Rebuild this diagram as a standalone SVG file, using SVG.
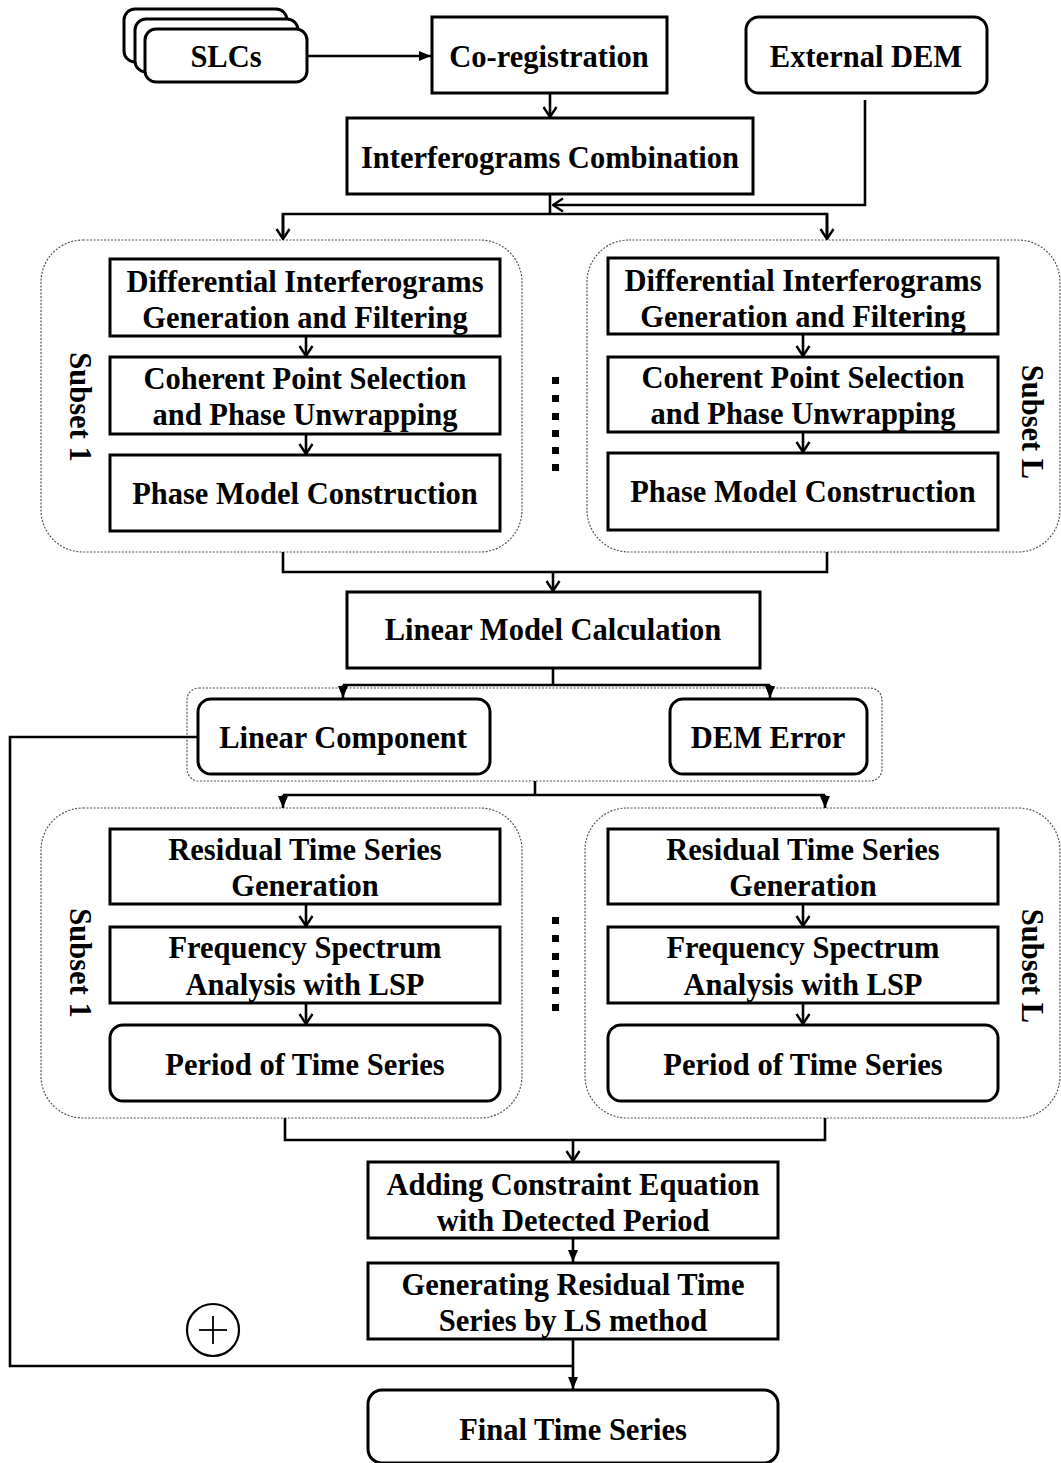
<svg xmlns="http://www.w3.org/2000/svg" width="1061" height="1463" viewBox="0 0 1061 1463">
<style>
.bg{fill:#fff}
.box{fill:#fff;stroke:#000;stroke-width:3}
.grp{fill:none;stroke:#555;stroke-width:1.2;stroke-dasharray:2 1.5}
.ln{fill:none;stroke:#000;stroke-width:2.6}
.t{font-family:"Liberation Serif","Times New Roman",serif;font-weight:bold;font-size:30.5px;text-anchor:middle;fill:#000}
.dot{fill:#000}
</style>
<defs>
<marker id="open" markerUnits="userSpaceOnUse" viewBox="0 0 12 16" refX="11" refY="8" markerWidth="12" markerHeight="16" orient="auto">
<path d="M1,1.5 L11,8 L1,14.5" fill="none" stroke="#000" stroke-width="2.4"/>
</marker>
<marker id="fill" markerUnits="userSpaceOnUse" viewBox="0 0 12 10" refX="12" refY="5" markerWidth="12" markerHeight="10" orient="auto">
<path d="M0,0 L12,5 L0,10 z" fill="#000"/>
</marker>
</defs>
<rect class="bg" x="0" y="0" width="1061" height="1463"/>

<g id="groups">
<rect id="grp-top-1" class="grp" x="41" y="240" width="481" height="312" rx="42"/>
<rect id="grp-top-L" class="grp" x="587" y="240" width="473" height="312" rx="42"/>
<rect id="grp-mid" class="grp" x="187" y="688" width="695" height="93" rx="12"/>
<rect id="grp-bot-1" class="grp" x="41" y="808" width="481" height="310" rx="42"/>
<rect id="grp-bot-L" class="grp" x="585" y="808" width="475" height="310" rx="42"/>
</g>

<g id="connectors">
<line class="ln" x1="307" y1="56" x2="431" y2="56" marker-end="url(#fill)"/>
<line class="ln" x1="550" y1="93" x2="550" y2="117" marker-end="url(#open)"/>
<polyline class="ln" points="865,100 865,205 553,205" marker-end="url(#open)"/>
<line class="ln" x1="550" y1="194" x2="550" y2="214"/>
<polyline class="ln" points="283,238 283,214 827,214 827,238"/>
<line class="ln" x1="283" y1="214" x2="283" y2="239" marker-end="url(#open)"/>
<line class="ln" x1="827" y1="214" x2="827" y2="239" marker-end="url(#open)"/>
<line class="ln" x1="306" y1="336" x2="306" y2="356" marker-end="url(#open)"/>
<line class="ln" x1="306" y1="434" x2="306" y2="454" marker-end="url(#open)"/>
<line class="ln" x1="803" y1="334" x2="803" y2="356" marker-end="url(#open)"/>
<line class="ln" x1="803" y1="432" x2="803" y2="452" marker-end="url(#open)"/>
<polyline class="ln" points="283,552 283,572 827,572 827,552"/>
<line class="ln" x1="553" y1="572" x2="553" y2="591" marker-end="url(#open)"/>
<line class="ln" x1="553" y1="668" x2="553" y2="685"/>
<line class="ln" x1="343" y1="685" x2="770" y2="685"/>
<line class="ln" x1="343" y1="685" x2="343" y2="698" marker-end="url(#fill)"/>
<line class="ln" x1="770" y1="685" x2="770" y2="698" marker-end="url(#fill)"/>
<polyline class="ln" points="198,737 10,737 10,1366 573,1366"/>
<line class="ln" x1="535" y1="781" x2="535" y2="795"/>
<line class="ln" x1="283" y1="795" x2="825" y2="795"/>
<line class="ln" x1="283" y1="795" x2="283" y2="808" marker-end="url(#fill)"/>
<line class="ln" x1="825" y1="795" x2="825" y2="808" marker-end="url(#fill)"/>
<line class="ln" x1="306" y1="904" x2="306" y2="926" marker-end="url(#open)"/>
<line class="ln" x1="306" y1="1003" x2="306" y2="1024" marker-end="url(#open)"/>
<line class="ln" x1="803" y1="904" x2="803" y2="926" marker-end="url(#open)"/>
<line class="ln" x1="803" y1="1003" x2="803" y2="1024" marker-end="url(#open)"/>
<polyline class="ln" points="285,1118 285,1140 825,1140 825,1118"/>
<line class="ln" x1="573" y1="1140" x2="573" y2="1161" marker-end="url(#open)"/>
<line class="ln" x1="573" y1="1238" x2="573" y2="1262" marker-end="url(#fill)"/>
<line class="ln" x1="573" y1="1339" x2="573" y2="1389" marker-end="url(#fill)"/>
</g>

<g id="slcs">
<rect class="box" x="124" y="9" width="163" height="53" rx="11"/>
<rect class="box" x="135" y="19" width="163" height="53" rx="11"/>
<rect class="box" x="145" y="29" width="162" height="53" rx="11"/>
<text class="t" x="226" y="67">SLCs</text>
</g>
<g id="coreg">
<rect class="box" x="432" y="17" width="235" height="76"/>
<text class="t" x="549" y="67">Co-registration</text>
</g>
<g id="extdem">
<rect class="box" x="746" y="17" width="241" height="76" rx="13"/>
<text class="t" x="866" y="67">External DEM</text>
</g>
<g id="interf">
<rect class="box" x="347" y="118" width="406" height="76"/>
<text class="t" x="550" y="168">Interferograms Combination</text>
</g>

<g id="diff1">
<rect class="box" x="110" y="259" width="390" height="77"/>
<text class="t" x="305" y="292">Differential Interferograms</text>
<text class="t" x="305" y="328">Generation and Filtering</text>
</g>
<g id="coh1">
<rect class="box" x="110" y="357" width="390" height="77"/>
<text class="t" x="305" y="389">Coherent Point Selection</text>
<text class="t" x="305" y="425">and Phase Unwrapping</text>
</g>
<g id="pmc1">
<rect class="box" x="110" y="455" width="390" height="76"/>
<text class="t" x="305" y="504">Phase Model Construction</text>
</g>
<g id="diffL">
<rect class="box" x="608" y="258" width="390" height="76"/>
<text class="t" x="803" y="291">Differential Interferograms</text>
<text class="t" x="803" y="327">Generation and Filtering</text>
</g>
<g id="cohL">
<rect class="box" x="608" y="357" width="390" height="75"/>
<text class="t" x="803" y="388">Coherent Point Selection</text>
<text class="t" x="803" y="424">and Phase Unwrapping</text>
</g>
<g id="pmcL">
<rect class="box" x="608" y="453" width="390" height="77"/>
<text class="t" x="803" y="502">Phase Model Construction</text>
</g>
<g id="sub-top-labels">
<text class="t" transform="translate(80,407) rotate(90)" dominant-baseline="central">Subset 1</text>
<text class="t" transform="translate(1032,422) rotate(90)" dominant-baseline="central">Subset L</text>
</g>
<g id="dots-top">
<rect class="dot" x="552" y="377" width="7" height="7"/>
<rect class="dot" x="552" y="395" width="7" height="7"/>
<rect class="dot" x="552" y="413" width="7" height="7"/>
<rect class="dot" x="552" y="430" width="7" height="7"/>
<rect class="dot" x="552" y="447" width="7" height="7"/>
<rect class="dot" x="552" y="464" width="7" height="7"/>
</g>

<g id="lmc">
<rect class="box" x="347" y="592" width="413" height="76"/>
<text class="t" x="553" y="640">Linear Model Calculation</text>
</g>
<g id="lincomp">
<rect class="box" x="198" y="699" width="292" height="75" rx="13"/>
<text class="t" x="343" y="748">Linear Component</text>
</g>
<g id="demerr">
<rect class="box" x="670" y="699" width="197" height="75" rx="13"/>
<text class="t" x="768" y="748">DEM Error</text>
</g>

<g id="res1">
<rect class="box" x="110" y="829" width="390" height="75"/>
<text class="t" x="305" y="860">Residual Time Series</text>
<text class="t" x="305" y="896">Generation</text>
</g>
<g id="freq1">
<rect class="box" x="110" y="927" width="390" height="76"/>
<text class="t" x="305" y="958">Frequency Spectrum</text>
<text class="t" x="305" y="995">Analysis with LSP</text>
</g>
<g id="per1">
<rect class="box" x="110" y="1025" width="390" height="76" rx="13"/>
<text class="t" x="305" y="1075">Period of Time Series</text>
</g>
<g id="resL">
<rect class="box" x="608" y="829" width="390" height="75"/>
<text class="t" x="803" y="860">Residual Time Series</text>
<text class="t" x="803" y="896">Generation</text>
</g>
<g id="freqL">
<rect class="box" x="608" y="927" width="390" height="76"/>
<text class="t" x="803" y="958">Frequency Spectrum</text>
<text class="t" x="803" y="995">Analysis with LSP</text>
</g>
<g id="perL">
<rect class="box" x="608" y="1025" width="390" height="76" rx="13"/>
<text class="t" x="803" y="1075">Period of Time Series</text>
</g>
<g id="sub-bot-labels">
<text class="t" transform="translate(80,963) rotate(90)" dominant-baseline="central">Subset 1</text>
<text class="t" transform="translate(1032,966) rotate(90)" dominant-baseline="central">Subset L</text>
</g>
<g id="dots-bot">
<rect class="dot" x="552" y="917" width="7" height="7"/>
<rect class="dot" x="552" y="935" width="7" height="7"/>
<rect class="dot" x="552" y="953" width="7" height="7"/>
<rect class="dot" x="552" y="970" width="7" height="7"/>
<rect class="dot" x="552" y="987" width="7" height="7"/>
<rect class="dot" x="552" y="1004" width="7" height="7"/>
</g>

<g id="adding">
<rect class="box" x="368" y="1162" width="410" height="76"/>
<text class="t" x="573" y="1195">Adding Constraint Equation</text>
<text class="t" x="573" y="1231">with Detected Period</text>
</g>
<g id="generating">
<rect class="box" x="368" y="1263" width="410" height="76"/>
<text class="t" x="573" y="1295">Generating Residual Time</text>
<text class="t" x="573" y="1331">Series by LS method</text>
</g>
<g id="plus">
<circle cx="213" cy="1330" r="26" fill="#fff" stroke="#000" stroke-width="2.2"/>
<line x1="199" y1="1330" x2="227" y2="1330" stroke="#000" stroke-width="1.8"/>
<line x1="213" y1="1316" x2="213" y2="1344" stroke="#000" stroke-width="1.8"/>
</g>
<g id="final">
<rect class="box" x="368" y="1390" width="410" height="73" rx="14"/>
<text class="t" x="573" y="1440">Final Time Series</text>
</g>
</svg>
